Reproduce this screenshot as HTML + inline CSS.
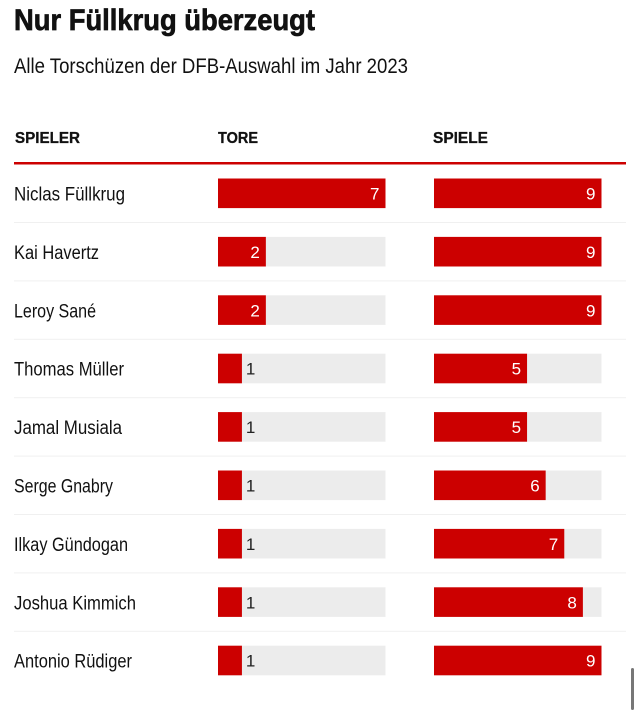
<!DOCTYPE html>
<html><head><meta charset="utf-8"><style>
html,body{margin:0;padding:0;background:#fff;}
svg{display:block;}
text{font-family:"Liberation Sans Narrow","Liberation Sans",sans-serif;}
</style></head><body>
<svg width="640" height="725" viewBox="0 0 640 725" xmlns="http://www.w3.org/2000/svg">
<text x="14" y="30" font-size="30" font-weight="bold" fill="#111" stroke="#111" stroke-width="0.7" textLength="301" lengthAdjust="spacingAndGlyphs">Nur Füllkrug überzeugt</text>
<text x="14" y="73" font-size="21" fill="#111" textLength="394" lengthAdjust="spacingAndGlyphs">Alle Torschüzen der DFB-Auswahl im Jahr 2023</text>
<text x="15" y="143" font-size="16" font-weight="bold" fill="#111" stroke="#111" stroke-width="0.3" textLength="65" lengthAdjust="spacingAndGlyphs">SPIELER</text>
<text x="218" y="143" font-size="16" font-weight="bold" fill="#111" stroke="#111" stroke-width="0.3" textLength="40" lengthAdjust="spacingAndGlyphs">TORE</text>
<text x="433" y="143" font-size="16" font-weight="bold" fill="#111" stroke="#111" stroke-width="0.3" textLength="55" lengthAdjust="spacingAndGlyphs">SPIELE</text>
<rect x="14" y="162" width="612" height="2.5" fill="#cc0000"/>
<g id="rows"></g>
<rect x="631" y="668" width="3" height="42" rx="1.5" fill="#777"/>
</svg>
<script>
var d=[["Niclas Füllkrug",7,9,111],["Kai Havertz",2,9,85],["Leroy Sané",2,9,82],["Thomas Müller",1,5,110],["Jamal Musiala",1,5,108],["Serge Gnabry",1,6,99],["Ilkay Gündogan",1,7,114],["Joshua Kimmich",1,8,122],["Antonio Rüdiger",1,9,118]];
var g=document.getElementById("rows"),h="";
d.forEach(function(r,i){
 var c=193.5+i*58.4,y=c-15;
 h+='<text x="14" y="'+(c+7)+'" font-size="19" fill="#111" textLength="'+r[3]+'" lengthAdjust="spacingAndGlyphs">'+r[0]+'</text>';
 [[218,r[1],7],[434,r[2],9]].forEach(function(b){
  var w=167.5*b[1]/b[2];
  h+='<rect x="'+b[0]+'" y="'+y+'" width="167.5" height="29.6" fill="#ececec"/>';
  h+='<rect x="'+b[0]+'" y="'+y+'" width="'+w+'" height="29.6" fill="#cc0000"/>';
  if(w<30) h+='<text x="'+(b[0]+w+4)+'" y="'+(c+6)+'" font-size="17" fill="#222" style="font-family:\'Liberation Sans\',sans-serif">'+b[1]+'</text>';
  else h+='<text x="'+(b[0]+w-6)+'" y="'+(c+6)+'" font-size="17" fill="#fff" text-anchor="end" style="font-family:\'Liberation Sans\',sans-serif">'+b[1]+'</text>';
 });
 if(i<8) h+='<rect x="14" y="'+(c+28.5)+'" width="612" height="1" fill="#f0f0f0"/>';
});
g.innerHTML=h;
</script>
</body></html>
